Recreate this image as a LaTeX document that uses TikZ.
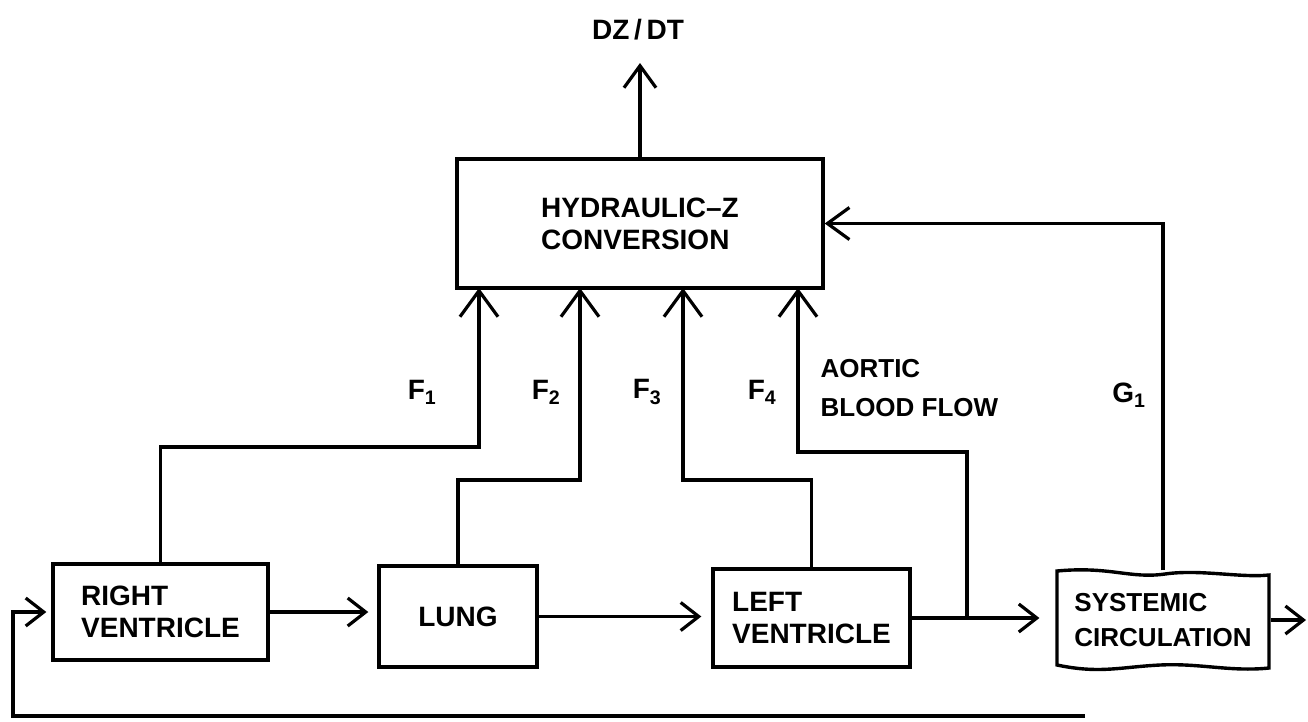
\documentclass[tikz,border=0pt]{standalone}
\usepackage{fontspec}
\setmainfont{Liberation Sans}
\usetikzlibrary{arrows.meta,calc}
\begin{document}
\begin{tikzpicture}[x=1pt,y=-1pt, line width=3.2pt,
  txt/.style={font=\fontsize{28}{32}\selectfont\bfseries, align=left},
  blk/.style={draw, line width=3.4pt, inner sep=0pt, txt},
  bigtip/.style={-{Straight Barb[length=26pt,width=38pt]}},
  midtip/.style={-{Straight Barb[length=22pt,width=32pt]}},
  smalltip/.style={-{Straight Barb[length=18pt,width=28pt]}},
]
\useasboundingbox (0,0) rectangle (1308,721);
% blocks
\node[blk, minimum width=366pt, minimum height=129pt] (hyd) at (640,223.5) {HYDRAULIC--Z\\CONVERSION};
\node[blk, minimum width=215pt, minimum height=96pt] (rv) at (160.5,612) {RIGHT\\VENTRICLE};
\node[blk, minimum width=158pt, minimum height=101pt] (lung) at (458,616.5) {LUNG};
\node[blk, minimum width=197pt, minimum height=98pt] (lv) at (811.5,618) {LEFT\\VENTRICLE};
\node[txt, font=\fontsize{26}{35}\selectfont\bfseries, inner sep=0pt, minimum width=212pt, minimum height=96pt] (sys) at (1163,620) {SYSTEMIC\\CIRCULATION};
\draw[line width=3.4pt] (1057,571) .. controls (1110,566) and (1130,579) .. (1165,574) .. controls (1200,569) and (1240,578) .. (1269,575)
  -- (1269,668) .. controls (1230,672) and (1200,663) .. (1160,665) .. controls (1120,667) and (1100,674) .. (1057,665) -- cycle;
% labels
\node[txt] (dz) at (638,30) {DZ\,/\,DT};
\node[txt] (lf1) at (422,392) {F\textsubscript{1}};
\node[txt] (lf2) at (546,392) {F\textsubscript{2}};
\node[txt] (lf3) at (647,392) {F\textsubscript{3}};
\node[txt] (lf4) at (762,392) {F\textsubscript{4}};
\node[txt, font=\fontsize{26}{39}\selectfont\bfseries, anchor=west, inner sep=0pt] (aortic) at (819,388) {AORTIC\\BLOOD FLOW};
\node[txt] (lg1) at (1129,395) {G\textsubscript{1}};
% coordinates
\coordinate (dztip) at (640,63);
\coordinate (c1) at (479,447); \coordinate (t1) at (479,288);
\coordinate (c2) at (580,480); \coordinate (t2) at (580,288);
\coordinate (c3) at (683,480); \coordinate (t3) at (683,288);
\coordinate (j)  at (967,618);
\coordinate (c4) at (798,452); \coordinate (t4) at (798,288);
\coordinate (out) at (1306,620);
\coordinate (fb) at (1085,716); \coordinate (fbc) at (13,716);
% connectors
\draw[midtip] (hyd.north) -- (dztip);
\draw[bigtip] (rv.north) |- (c1) -- (t1);
\draw[bigtip] (lung.north) |- (c2) -- (t2);
\draw[bigtip] (lv.north) |- (c3) -- (t3);
\draw[bigtip] (j) |- (c4) -- (t4);
\draw[midtip] (sys.north) -- (sys.north |- hyd.east) -- (hyd.east);
\draw[smalltip, shorten >=9pt] (rv.east) -- (rv.east -| lung.west);
\draw[smalltip, shorten >=10pt] (lung.east) -- (lung.east -| lv.west);
\draw[smalltip, shorten >=16pt] (lv.east) -- (lv.east -| sys.west);
\draw[smalltip] (sys.east) -- (out);
\draw[smalltip, shorten >=5pt] (fb) -- (fbc) |- (rv.west);
\end{tikzpicture}
\end{document}
